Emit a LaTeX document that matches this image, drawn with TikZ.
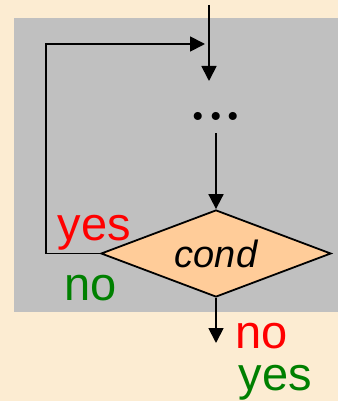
\documentclass[tikz,border=0pt]{standalone}
\usepackage{fontspec}
\setmainfont{Liberation Sans}
\newfontfamily\dotsfont{Latin Modern Roman}
\usetikzlibrary{arrows.meta,shapes.geometric}

\definecolor{paper}{RGB}{252,236,210}
\definecolor{panel}{RGB}{192,192,192}
\definecolor{peach}{RGB}{255,204,153}
\definecolor{yesred}{RGB}{255,0,0}
\definecolor{nogreen}{RGB}{0,128,0}

\begin{document}
\begin{tikzpicture}[x=1pt,y=-1pt,>={Triangle[length=15pt,width=15pt]},
                    line width=1.8pt,
                    decision/.style={diamond,draw,fill=peach,aspect=2.6,
                      minimum width=230pt,minimum height=87pt,inner sep=0pt,
                      font=\fontsize{38}{38}\selectfont\itshape},
                    answer/.style={anchor=base west,inner sep=0pt,
                      font=\fontsize{47}{47}\selectfont}]

  % paper and grey panel
  \fill[paper] (0,0) rectangle (338,401);
  \fill[panel] (14,18) rectangle (338,312);

  \node[inner sep=0pt,font=\dotsfont\fontsize{56}{56}\selectfont\bfseries]
                        (body) at (216,116)  {...};
  \node[decision]       (cond) at (216,253.5) {cond};

  \coordinate (top)    at (209,5);
  \coordinate (merge)  at (209,44);
  \coordinate (entry)  at (209,81);
  \coordinate (corner) at (46,44);
  \coordinate (exit)   at (216,343);

  \draw[->] (top) -- (entry);
  \draw[->,shorten <=17pt] (body.center) -- (cond.north);
  \draw[->,shorten >=4pt] (cond.west) -| (corner) -- (merge);
  \draw[->] (cond.south) -- (exit);

  \node[answer,text=yesred]   (loopyes) at (57,240)   {yes};
  \node[answer,text=nogreen]  (loopno)  at (63.5,300) {no};
  \node[answer,text=yesred]   (exitno)  at (234.5,348) {no};
  \node[answer,text=nogreen]  (exityes) at (238,390)  {yes};
\end{tikzpicture}
\end{document}
